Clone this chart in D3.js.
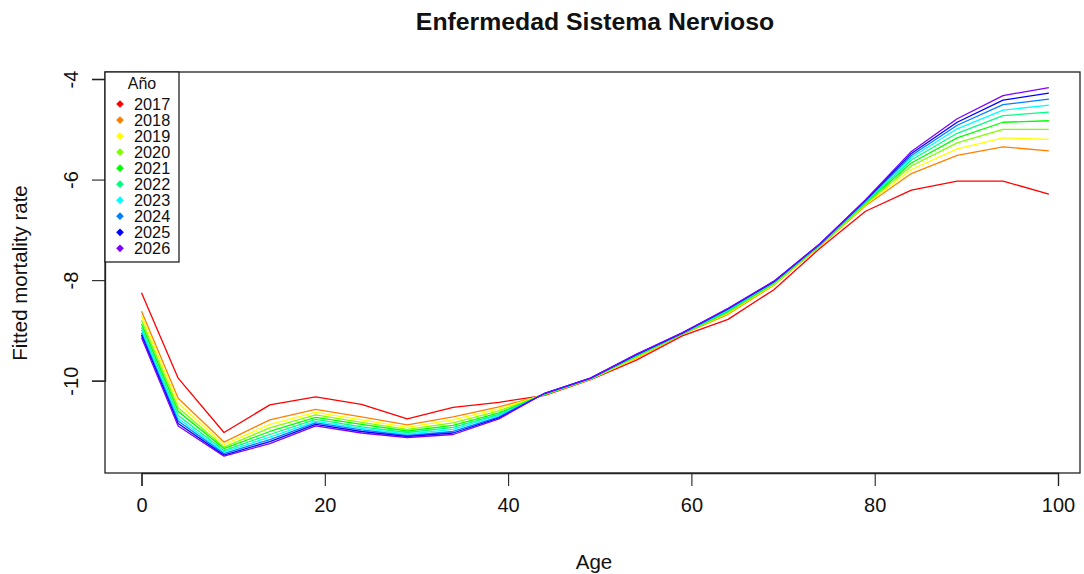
<!DOCTYPE html>
<html>
<head>
<meta charset="utf-8">
<script src="https://cdn.jsdelivr.net/npm/d3@7"></script>
<style>
  html, body { margin: 0; padding: 0; background: #ffffff; }
  svg { display: block; font-family: "Liberation Sans", Arial, sans-serif; }
</style>
</head>
<body>
<svg id="chart" width="1084" height="574"></svg>
<script>
// Age points of the fitted curves
const ages = [0, 4, 9, 14, 19, 24, 29, 34, 39, 44, 49, 54, 59, 64, 69, 74, 79, 84, 89, 94, 99];

// Years shown in the legend
const years = ["2017", "2018", "2019", "2020", "2021", "2022", "2023", "2024", "2025", "2026"];

// Fitted log mortality rate by year (one array per year, aligned with ages)
const rate2017 = [-8.25, -9.95, -11.03, -10.48, -10.32, -10.47, -10.76, -10.53, -10.43, -10.29, -9.98, -9.59, -9.11, -8.78, -8.19, -7.37, -6.63, -6.21, -6.03, -6.03, -6.29];
const rate2018 = [-8.62, -10.35, -11.22, -10.78, -10.57, -10.72, -10.88, -10.72, -10.52, -10.28, -9.97, -9.55, -9.08, -8.68, -8.10, -7.33, -6.52, -5.88, -5.52, -5.35, -5.43];
const rate2019 = [-8.71, -10.45, -11.27, -10.87, -10.63, -10.78, -10.93, -10.78, -10.56, -10.27, -9.97, -9.54, -9.07, -8.66, -8.09, -7.32, -6.50, -5.80, -5.39, -5.17, -5.20];
const rate2020 = [-8.80, -10.54, -11.32, -10.94, -10.68, -10.83, -10.97, -10.84, -10.60, -10.27, -9.96, -9.52, -9.07, -8.64, -8.07, -7.31, -6.48, -5.73, -5.27, -5.00, -5.00];
const rate2021 = [-8.87, -10.61, -11.35, -11.01, -10.73, -10.87, -11.00, -10.89, -10.64, -10.27, -9.96, -9.51, -9.07, -8.62, -8.06, -7.31, -6.46, -5.67, -5.17, -4.86, -4.83];
const rate2022 = [-8.94, -10.69, -11.39, -11.07, -10.77, -10.92, -11.03, -10.93, -10.67, -10.26, -9.96, -9.50, -9.06, -8.61, -8.05, -7.30, -6.45, -5.61, -5.08, -4.73, -4.66];
const rate2023 = [-8.99, -10.75, -11.42, -11.12, -10.81, -10.95, -11.06, -10.97, -10.69, -10.26, -9.96, -9.49, -9.06, -8.59, -8.04, -7.29, -6.43, -5.56, -4.99, -4.62, -4.52];
const rate2024 = [-9.05, -10.80, -11.45, -11.17, -10.84, -10.98, -11.09, -11.01, -10.72, -10.25, -9.95, -9.48, -9.06, -8.58, -8.03, -7.29, -6.42, -5.52, -4.92, -4.51, -4.40];
const rate2025 = [-9.09, -10.85, -11.48, -11.21, -10.87, -11.01, -11.11, -11.04, -10.74, -10.25, -9.95, -9.48, -9.05, -8.57, -8.03, -7.28, -6.41, -5.48, -4.86, -4.42, -4.28];
const rate2026 = [-9.14, -10.90, -11.50, -11.25, -10.90, -11.04, -11.13, -11.07, -10.76, -10.25, -9.95, -9.47, -9.05, -8.56, -8.02, -7.28, -6.40, -5.44, -4.79, -4.33, -4.17];

const rates = [rate2017, rate2018, rate2019, rate2020, rate2021, rate2022, rate2023, rate2024, rate2025, rate2026];

// Rainbow palette, one colour per year
const colors = ["#FF0000", "#FF8000", "#FFFF00", "#80FF00", "#00FF00", "#00FF80", "#00FFFF", "#0080FF", "#0000FF", "#8000FF"];

// Axis ticks
const xTicks = [0, 20, 40, 60, 80, 100];
const yTicks = [-10, -8, -6, -4];

const svg = d3.select("#chart");

// Plot region
const box = { left: 105, right: 1080, top: 72, bottom: 473 };

const x = d3.scaleLinear().domain([0, 100]).range([141.5, 1058]);
const y = d3.scaleLinear().domain([-10, -4]).range([380.7, 79]);

// Curves
const line = d3.line()
  .x((d, i) => x(ages[i]))
  .y(d => y(d));

svg.append("g")
  .selectAll("path")
  .data(rates)
  .join("path")
  .attr("d", d => line(d))
  .attr("fill", "none")
  .attr("stroke", (d, i) => colors[i])
  .attr("stroke-width", 1.3)
  .attr("stroke-linejoin", "round");

// Frame around the plot region
svg.append("rect")
  .attr("x", box.left)
  .attr("y", box.top)
  .attr("width", box.right - box.left)
  .attr("height", box.bottom - box.top)
  .attr("fill", "none")
  .attr("stroke", "#222")
  .attr("stroke-width", 1.3);

// X axis
const xAxis = d3.axisBottom(x)
  .tickValues(xTicks)
  .tickSize(13)
  .tickPadding(12)
  .tickFormat(d3.format("d"));

const gx = svg.append("g")
  .attr("transform", `translate(0,${box.bottom})`)
  .call(xAxis);
gx.select(".domain").attr("stroke", "#222").attr("stroke-width", 1.3);
gx.selectAll(".tick line").attr("stroke", "#222").attr("stroke-width", 1.1);
gx.selectAll(".tick text")
  .attr("font-size", 20)
  .attr("font-family", "Liberation Sans, Arial, sans-serif")
  .attr("fill", "#111");

// Y axis, labels parallel to the axis
const yAxis = d3.axisLeft(y)
  .tickValues(yTicks)
  .tickSize(13)
  .tickFormat(d => d3.format("d")(d).replace("\u2212", "-"));

const gy = svg.append("g")
  .attr("transform", `translate(${box.left},0)`)
  .call(yAxis);
gy.select(".domain").attr("stroke", "#222").attr("stroke-width", 1.3);
gy.selectAll(".tick line").attr("stroke", "#222").attr("stroke-width", 1.1);
gy.selectAll(".tick text")
  .attr("font-size", 20)
  .attr("font-family", "Liberation Sans, Arial, sans-serif")
  .attr("fill", "#111")
  .attr("x", null)
  .attr("dy", null)
  .attr("text-anchor", "middle")
  .attr("transform", "translate(-27,0) rotate(-90)");

// Titles
svg.append("text")
  .attr("x", 595)
  .attr("y", 30)
  .attr("text-anchor", "middle")
  .attr("font-size", 24.8)
  .attr("font-weight", "bold")
  .attr("fill", "#111")
  .text("Enfermedad Sistema Nervioso");

svg.append("text")
  .attr("x", 594)
  .attr("y", 569)
  .attr("text-anchor", "middle")
  .attr("font-size", 20.5)
  .attr("fill", "#111")
  .text("Age");

svg.append("text")
  .attr("transform", "translate(27,273) rotate(-90)")
  .attr("text-anchor", "middle")
  .attr("font-size", 20.5)
  .attr("fill", "#111")
  .text("Fitted mortality rate");

// Legend
const legend = svg.append("g");
legend.append("rect")
  .attr("x", box.left)
  .attr("y", box.top)
  .attr("width", 74)
  .attr("height", 190)
  .attr("fill", "#fff")
  .attr("stroke", "#222")
  .attr("stroke-width", 1.3);

legend.append("text")
  .attr("x", 142)
  .attr("y", 89)
  .attr("text-anchor", "middle")
  .attr("font-size", 16)
  .attr("fill", "#111")
  .text("A\u00f1o");

const rowY = d3.scaleLinear().domain([0, years.length - 1]).range([104, 248.3]);

const rows = legend.selectAll("g.row")
  .data(years)
  .join("g")
  .attr("class", "row")
  .attr("transform", (d, i) => `translate(0,${rowY(i)})`);

// Filled diamond markers
rows.append("path")
  .attr("d", d3.symbol(d3.symbolSquare, 30)())
  .attr("transform", "translate(120,0) rotate(45)")
  .attr("fill", (d, i) => colors[i]);

rows.append("text")
  .attr("x", 134)
  .attr("y", 6)
  .attr("font-size", 16.3)
  .attr("fill", "#111")
  .text(d => d);
</script>
</body>
</html>
